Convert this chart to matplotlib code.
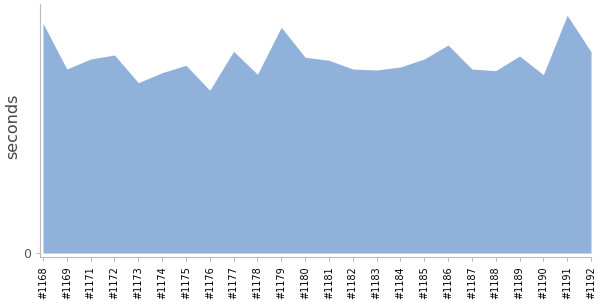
import matplotlib
matplotlib.use("Agg")
import matplotlib.pyplot as plt

builds = ['#1168', '#1169', '#1171', '#1172', '#1173', '#1174', '#1175', '#1176',
          '#1177', '#1178', '#1179', '#1180', '#1181', '#1182', '#1183', '#1184',
          '#1185', '#1186', '#1187', '#1188', '#1189', '#1190', '#1191', '#1192']
seconds = [22.97, 18.4, 19.4, 19.8, 17.03, 18.03, 18.77, 16.27,
           20.17, 17.87, 22.57, 19.57, 19.27, 18.4, 18.3, 18.6,
           19.4, 20.8, 18.4, 18.23, 19.7, 17.83, 23.77, 20.13]

plt.rcParams['font.family'] = ['DejaVu Sans']

fig = plt.figure(figsize=(6, 3), dpi=100)
ax = fig.add_axes([40 / 600, 1 - 257 / 300, 551 / 600, 253 / 300])

x = range(len(builds))
ax.fill_between(x, 0, seconds, color='#8fb1da', linewidth=0)

ax.set_xlim(-0.126, len(builds) - 1)
ax.set_ylim(-0.4, 24.9)
ax.set_xticks(list(x))
ax.set_xticklabels(builds, rotation=90, fontsize=7, color='black')
ax.set_yticks([0])
ax.set_yticklabels(['0'], fontsize=9, color='#555555')
ax.set_ylabel('seconds', fontsize=11.5, color='#444444')
ax.yaxis.set_label_coords(-0.036, 0.516)

for side in ['top', 'right']:
    ax.spines[side].set_visible(False)
for side in ['left', 'bottom']:
    ax.spines[side].set_color('#bbbbbb')
ax.tick_params(axis='both', colors='#bbbbbb', length=3, labelcolor='black')
ax.tick_params(axis='y', labelcolor='#555555')

fig.savefig('out.png', dpi=100)
